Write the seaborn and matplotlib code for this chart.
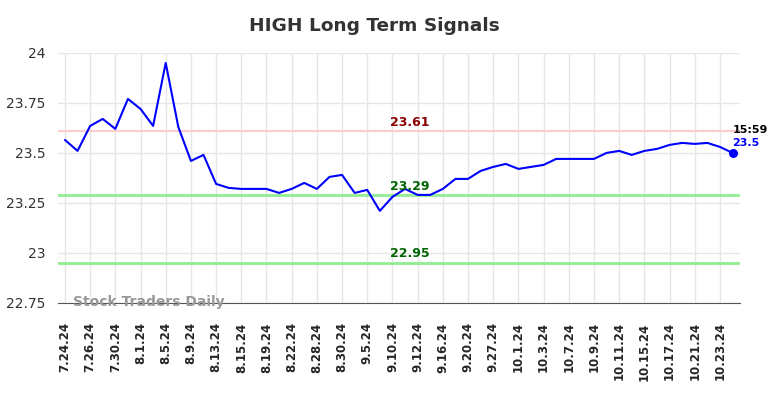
import matplotlib
matplotlib.use("Agg")
import matplotlib.pyplot as plt
import seaborn as sns
import pandas as pd

# Trading days shown on the chart
dates = ["7.24.24", "7.25.24", "7.26.24", "7.29.24", "7.30.24", "7.31.24",
         "8.1.24", "8.2.24", "8.5.24", "8.7.24", "8.9.24", "8.12.24",
         "8.13.24", "8.14.24", "8.15.24", "8.16.24", "8.19.24", "8.20.24",
         "8.22.24", "8.23.24", "8.28.24", "8.29.24", "8.30.24", "9.3.24",
         "9.5.24", "9.6.24", "9.10.24", "9.11.24", "9.12.24", "9.13.24",
         "9.16.24", "9.17.24", "9.20.24", "9.23.24", "9.27.24", "9.30.24",
         "10.1.24", "10.2.24", "10.3.24", "10.4.24", "10.7.24", "10.8.24",
         "10.9.24", "10.10.24", "10.11.24", "10.14.24", "10.15.24", "10.16.24",
         "10.17.24", "10.18.24", "10.21.24", "10.22.24", "10.23.24", "10.24.24"]

# Daily high values
highs = [23.565, 23.51, 23.635, 23.67, 23.62, 23.77,
         23.72, 23.635, 23.95, 23.63, 23.46, 23.49,
         23.345, 23.325, 23.32, 23.32, 23.32, 23.30,
         23.32, 23.35, 23.32, 23.38, 23.39, 23.30,
         23.315, 23.21, 23.28, 23.32, 23.29, 23.29,
         23.32, 23.37, 23.37, 23.41, 23.43, 23.445,
         23.42, 23.43, 23.44, 23.47, 23.47, 23.47,
         23.47, 23.50, 23.51, 23.49, 23.51, 23.52,
         23.54, 23.55, 23.545, 23.55, 23.53, 23.50]

resistance = 23.61
supports = [23.29, 22.95]
last_time = "15:59"

df = pd.DataFrame({"pos": range(len(dates)), "date": dates, "high": highs})

sns.set_style("white")
plt.rcParams['font.family'] = 'DejaVu Sans'

fig, ax = plt.subplots(figsize=(7.84, 3.98), dpi=100)
fig.subplots_adjust(left=0.074, right=0.944, top=0.867, bottom=0.239)

# signal lines
ax.axhline(resistance, color="#ffcccc", lw=1.5, zorder=1)
for s in supports:
    ax.axhline(s, color="#90ee90", lw=2, zorder=1)

sns.lineplot(data=df, x="pos", y="high", color="blue", lw=1.5, ax=ax, zorder=3)
ax.scatter(df["pos"].iloc[-1], df["high"].iloc[-1], color="blue", s=30, zorder=4)

mid = len(dates) // 2 + 0.4
ax.text(mid, resistance + 0.012, f"{resistance:.2f}", color="darkred",
        fontsize=9, fontweight="bold", ha="center", va="bottom")
for s in supports:
    ax.text(mid, s + 0.012, f"{s:.2f}", color="darkgreen",
            fontsize=9, fontweight="bold", ha="center", va="bottom")

last_x = df["pos"].iloc[-1]
last_y = df["high"].iloc[-1]
ax.text(last_x, last_y + 0.117, last_time, color="black", fontsize=8,
        fontweight="bold", ha="left", va="center")
ax.text(last_x, last_y + 0.052, f"{last_y:.1f}", color="blue", fontsize=8,
        fontweight="bold", ha="left", va="center")

ax.text(0.6, 22.755, "Stock Traders Daily", color="#999999", fontsize=10,
        fontweight="bold", ha="left", va="center", zorder=5)

ax.set_xlim(-0.55, len(dates) - 0.4)
ax.set_ylim(22.75, 24.0)
ax.set_yticks([22.75, 23, 23.25, 23.5, 23.75, 24])
ax.set_yticklabels(["22.75", "23", "23.25", "23.5", "23.75", "24"])
ax.set_xticks(range(0, len(dates), 2))
ax.set_xticklabels(dates[::2], rotation=90, fontsize=8.5, fontweight="bold")
ax.tick_params(axis="y", labelsize=10, colors="#333333", length=0, pad=9)
ax.tick_params(axis="x", length=0, pad=14)

ax.grid(True, color="#e6e6e6", lw=1)
ax.set_axisbelow(True)
for side in ["top", "right", "left"]:
    ax.spines[side].set_visible(False)
ax.spines["bottom"].set_color("#555555")

ax.set_xlabel("")
ax.set_ylabel("")
fig.text(0.478, 0.935, "HIGH Long Term Signals", fontsize=13.3,
         fontweight="bold", color="#333333", ha="center", va="center")

plt.savefig("out.png", dpi=100)
plt.close()
